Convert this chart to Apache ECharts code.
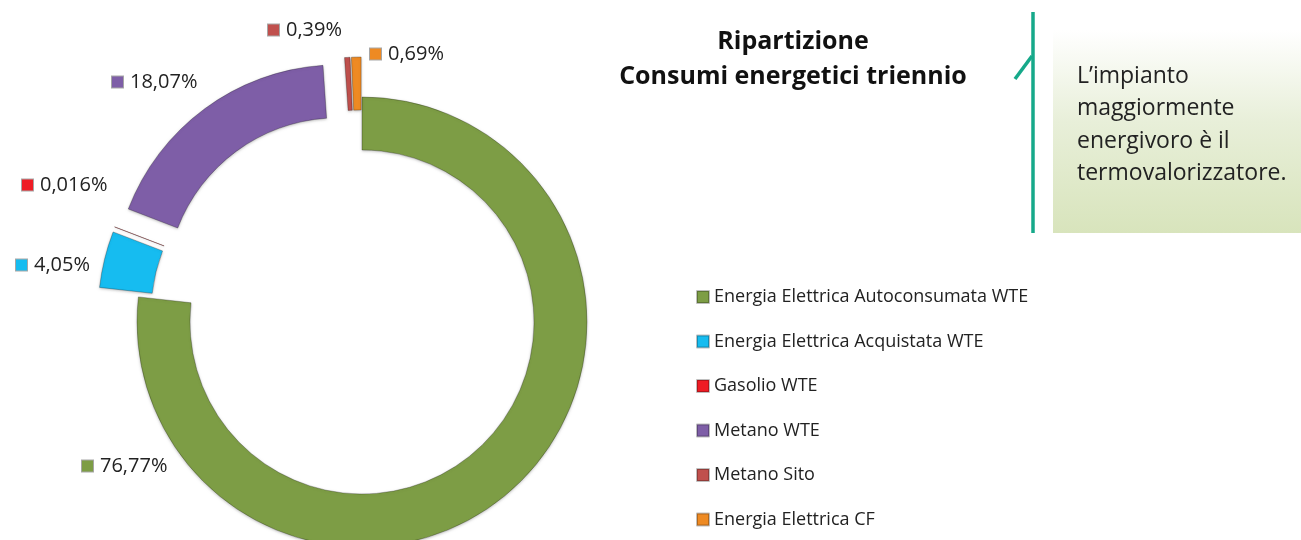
<!DOCTYPE html>
<html>
<head>
<meta charset="utf-8">
<script src="https://cdn.jsdelivr.net/npm/echarts@6/dist/echarts.min.js"></script>
<style>
    html, body { margin: 0; padding: 0; background: #fff; }
    #chart { width: 1301px; height: 540px; }
</style>
</head>
<body>
<div id="chart"></div>
<script>
// dati
let categories = [
    "Energia Elettrica Autoconsumata WTE",
    "Energia Elettrica Acquistata WTE",
    "Gasolio WTE",
    "Metano WTE",
    "Metano Sito",
    "Energia Elettrica CF",
];
let percentuali = [76.77, 4.05, 0.016, 18.07, 0.39, 0.69];
let esplosi = [false, true, true, true, true, true];

let colors = ["#7d9d45", "#16bcf0", "#ee1c24", "#7e5ea7", "#c0504d", "#ee8a23"];
// posizione manuale delle etichette (come nel foglio originale)
let labelPos = [[82, 466], [16, 265], [22, 185], [112, 82], [268, 30], [370, 54]];

const font = "'Open Sans', 'Noto Sans', sans-serif";

let rich = { t: { fontSize: 20, color: "#222", fontFamily: font, padding: [0, 0, 0, 7] } };
colors.forEach((c, i) => {
    rich["m" + i] = { width: 11, height: 11, backgroundColor: c, borderColor: "rgba(0,0,0,0.35)", borderWidth: 1 };
});

let pieBase = {
    type: "pie",
    center: [362, 322],
    radius: [172, 225],
    startAngle: 90,
    clockwise: true,
    avoidLabelOverlap: false,
    emphasis: { disabled: true },
    labelLine: { show: false },
};

let chart = echarts.init(document.getElementById("chart"));
chart.setOption({
    color: colors,
    animation: false,
    title: {
        text: "Ripartizione\nConsumi energetici triennio",
        left: 788,
        top: 19,
        textAlign: "center",
        textStyle: { fontFamily: font, fontSize: 25, fontWeight: "bold", color: "#111", lineHeight: 35 },
    },
    legend: {
        orient: "vertical",
        left: 691,
        top: 283,
        itemWidth: 12,
        itemHeight: 12,
        itemGap: 26.5,
        icon: "rect",
        selectedMode: false,
        data: categories,
        textStyle: { fontFamily: font, fontSize: 18, color: "#222" },
    },
    graphic: [
        { type: "line", shape: { x1: 1033, y1: 12, x2: 1033, y2: 233 }, style: { stroke: "#16a98a", lineWidth: 3.5 } },
        { type: "line", shape: { x1: 1015, y1: 79, x2: 1032, y2: 56 }, style: { stroke: "#16a98a", lineWidth: 3.5 } },
        {
            type: "rect",
            shape: { x: 1053, y: 30, width: 250, height: 203 },
            style: {
                fill: new echarts.graphic.LinearGradient(0, 0, 0, 1, [
                    { offset: 0, color: "#ffffff" },
                    { offset: 0.45, color: "#e8efd9" },
                    { offset: 1, color: "#d8e4bc" },
                ]),
            },
        },
        {
            type: "text",
            left: 1077,
            top: 60,
            style: {
                text: "L\u2019impianto\nmaggiormente\nenergivoro è il\ntermovalorizzatore.",
                fontFamily: font,
                fontSize: 23,
                lineHeight: 32.5,
                fill: "#222",
            },
        },
    ],
    series: [
        // anello con le fette esplose
        Object.assign({}, pieBase, {
            selectedMode: "multiple",
            selectedOffset: 40,
            itemStyle: { borderColor: "rgba(0,0,0,0.25)", borderWidth: 1, shadowBlur: 3, shadowColor: "rgba(0,0,0,0.25)", shadowOffsetY: 1 },
            select: { itemStyle: { borderColor: "rgba(0,0,0,0.25)", borderWidth: 1 } },
            label: { show: false },
            data: categories.map((name, i) => ({ name: name, value: percentuali[i], selected: esplosi[i] })),
        }),
        // solo etichette
        Object.assign({}, pieBase, {
            silent: true,
            itemStyle: { color: "rgba(0,0,0,0)" },
            label: {
                show: true,
                position: "outside",
                formatter: p => "{m" + p.dataIndex + "|}{t|" + String(p.value).replace(".", ",") + "%}",
                rich: rich,
            },
            labelLayout: p => ({
                x: labelPos[p.dataIndex][0],
                y: labelPos[p.dataIndex][1],
                align: "left",
                verticalAlign: "middle",
            }),
            data: categories.map((name, i) => ({ name: name, value: percentuali[i] })),
        }),
    ],
});
</script>
</body>
</html>
